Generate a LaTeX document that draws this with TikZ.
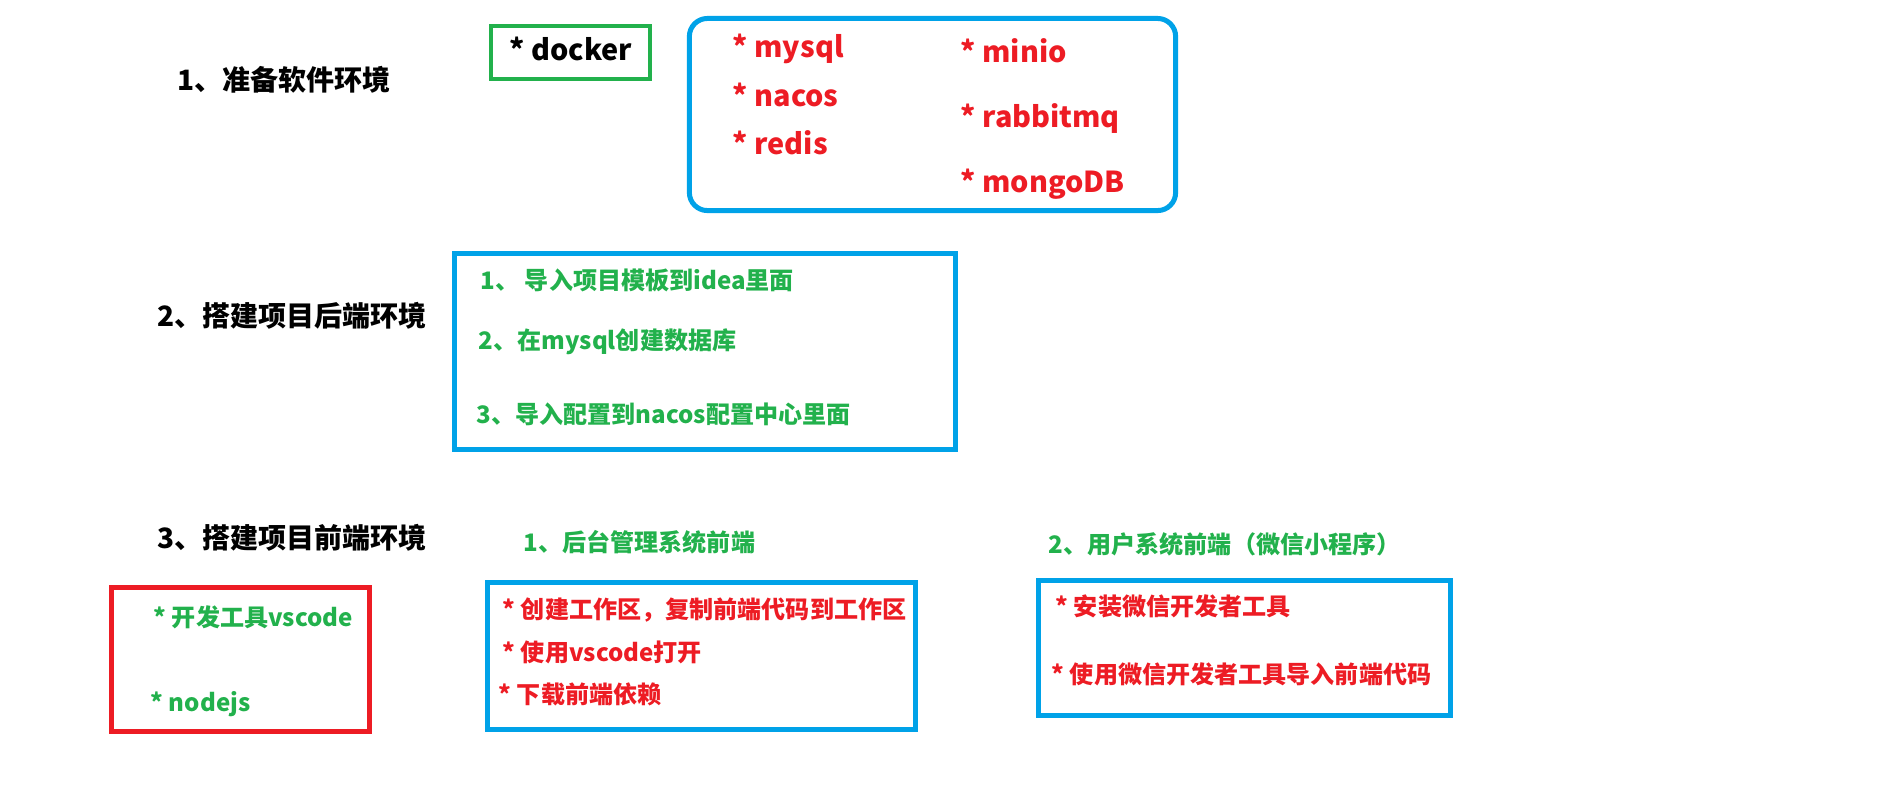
\documentclass[tikz,border=0pt]{standalone}
\usepackage{fontspec}
\setmainfont{Noto Sans CJK SC}
\usetikzlibrary{positioning}

\begin{document}
\begin{tikzpicture}[x=0.01cm, y=-0.01cm, every node/.style={inner sep=0pt}]
        \definecolor{paintblue}{RGB}{0,162,232}
        \definecolor{paintgreen}{RGB}{34,177,76}
        \definecolor{paintred}{RGB}{237,28,36}

        \tikzset{
            heading/.style={anchor=base west, font=\fontsize{7.97pt}{9pt}\selectfont\bfseries},
            tool/.style={anchor=base west, font=\fontsize{8.2pt}{10pt}\selectfont\bfseries},
            stepline/.style={anchor=base west, font=\fontsize{6.85pt}{8pt}\selectfont\bfseries},
            framebox/.style={draw=paintblue, line width=1.42pt, minimum width=#1},
        }

        \useasboundingbox (0,0) rectangle (1902,799);

        % Step 1: software environment
        \node[heading] (envtitle) at (177,90) {1、准备软件环境};
        \node[framebox=1.59cm, draw=paintgreen, line width=1.14pt, minimum height=0.53cm] (dockerbox) at (570.5,52.5) {};
        \node[tool] (docker) at (509,60) {* docker};
        \node[framebox=4.86cm, minimum height=1.92cm, rounded corners=0.18cm] (servicebox) at (932.5,114.5) {};
        \node[tool, text=paintred] (mysql) at (732,57) {* mysql};
        \node[tool, text=paintred] (nacos) at (732,106) {* nacos};
        \node[tool, text=paintred] (redis) at (732,154) {* redis};
        \node[tool, text=paintred] (minio) at (960,62) {* minio};
        \node[tool, text=paintred] (rabbitmq) at (960,127) {* rabbitmq};
        \node[tool, text=paintred] (mongodb) at (960,192) {* mongoDB};

        % Step 2: backend
        \node[heading] (backtitle) at (157,326) {2、搭建项目后端环境};
        \node[framebox=5.01cm, minimum height=1.96cm] (backbox) at (705,351.5) {};
        \node[stepline, text=paintgreen] (backone) at (480,289) {1、 导入项目模板到idea里面};
        \node[stepline, text=paintgreen] (backtwo) at (478,349) {2、在mysql创建数据库};
        \node[stepline, text=paintgreen] (backthree) at (476,423) {3、导入配置到nacos配置中心里面};

        % Step 3: frontend
        \node[heading] (fronttitle) at (157,548) {3、搭建项目前端环境};
        \node[stepline, text=paintgreen] (admintitle) at (523,551) {1、后台管理系统前端};
        \node[stepline, text=paintgreen] (usertitle) at (1048,553) {2、用户系统前端（微信小程序）};

        \node[framebox=2.58cm, draw=paintred, minimum height=1.44cm] (toolbox) at (240.5,659.5) {};
        \node[stepline, text=paintgreen] (vscode) at (153,626) {* 开发工具vscode};
        \node[stepline, text=paintgreen] (nodejs) at (150,711) {* nodejs};

        \node[framebox=4.28cm, minimum height=1.47cm] (adminbox) at (701.5,656) {};
        \node[stepline, text=paintred] (adminone) at (502,618) {* 创建工作区，复制前端代码到工作区};
        \node[stepline, text=paintred] (admintwo) at (502,661) {* 使用vscode打开};
        \node[stepline, text=paintred] (adminthree) at (498,703) {* 下载前端依赖};

        \node[framebox=4.12cm, minimum height=1.35cm] (userbox) at (1244.5,648) {};
        \node[stepline, text=paintred] (userone) at (1055,615) {* 安装微信开发者工具};
        \node[stepline, text=paintred] (usertwo) at (1051,683) {* 使用微信开发者工具导入前端代码};
    \end{tikzpicture}
\end{document}
